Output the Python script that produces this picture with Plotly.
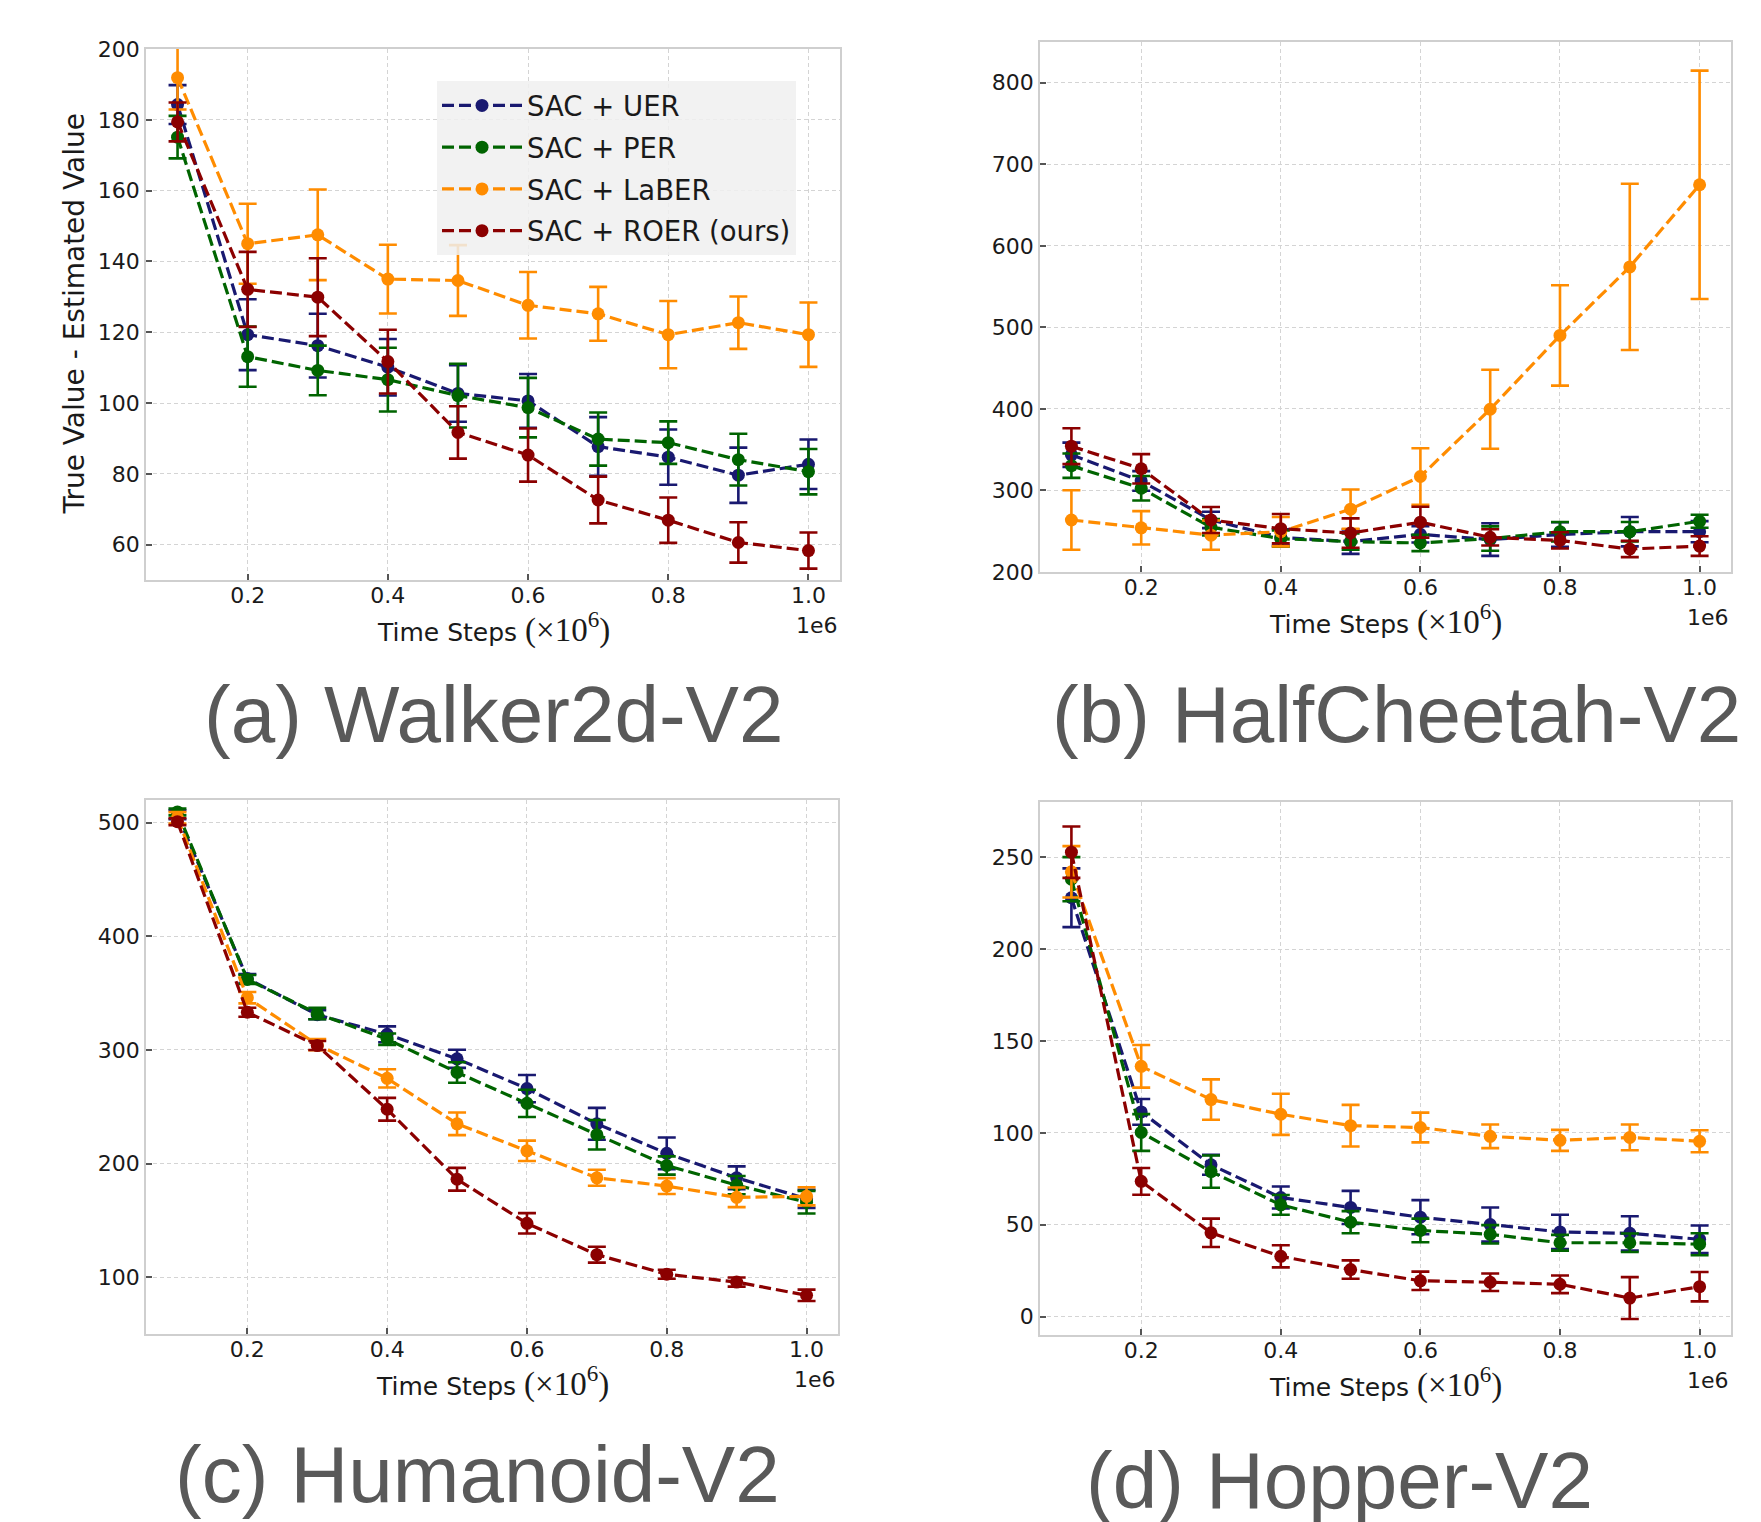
import plotly.graph_objects as go

# ---------------- data ----------------
steps = [0.1, 0.2, 0.3, 0.4, 0.5, 0.6, 0.7, 0.8, 0.9, 1.0]  # x 1e6

series_names = ["SAC + UER", "SAC + PER", "SAC + LaBER", "SAC + ROER (ours)"]
series_colors = ["#191970", "#006400", "#ff8c00", "#8b0000"]

# (a) Walker2d-V2
uer_a = [184.3, 119.3, 116.2, 110.1, 102.7, 100.6, 87.7, 84.7, 79.6, 82.7]
uer_a_err = [5.5, 10, 9, 8, 8, 7.6, 8.3, 7.8, 7.8, 7]
per_a = [175.1, 113.1, 109.2, 106.6, 102.1, 98.7, 89.8, 88.8, 84.0, 80.6]
per_a_err = [6, 8.5, 7, 9, 9, 8.4, 7.5, 6, 7.3, 6.4]
laber_a = [191.9, 145.0, 147.5, 135.0, 134.6, 127.6, 125.2, 119.3, 122.7, 119.3]
laber_a_err = [9, 11.3, 12.8, 9.7, 10, 9.4, 7.6, 9.5, 7.4, 9.1]
roer_a = [179.4, 132.1, 129.9, 111.7, 91.7, 85.3, 72.6, 66.9, 60.6, 58.3]
roer_a_err = [5.5, 10.6, 11, 9, 7.4, 7.5, 6.6, 6.4, 5.7, 5.1]

# (b) HalfCheetah-V2
uer_b = [343.7, 311.7, 263.8, 242.5, 237.2, 246.2, 239.8, 246.0, 249.4, 249.4]
uer_b_err = [15, 12, 10, 10, 15, 10, 20, 15, 18, 13]
per_b = [330.4, 302.7, 254.8, 240.9, 237.2, 235.6, 241.0, 249.4, 249.4, 262.2]
per_b_err = [15, 15, 10, 10, 10, 10, 15, 12, 12, 8]
laber_b = [263.8, 254.2, 245.2, 249.4, 277.1, 317.1, 399.6, 490.1, 574.2, 674.9]
laber_b_err = [36.5, 20.5, 18, 18, 24, 34.6, 48.5, 61.5, 102, 140]
roer_b = [354.3, 326.6, 263.8, 253.1, 247.8, 261.1, 242.5, 238.8, 228.2, 231.8]
roer_b_err = [22, 18, 16, 18, 18, 19, 10, 10, 10, 12]

# (c) Humanoid-V2
uer_c = [507.0, 362.9, 331.0, 313.8, 292.2, 266.0, 235.0, 209.0, 187.5, 169.0]
uer_c_err = [4, 4, 4, 7, 8, 12, 14, 14, 10, 8]
per_c = [509.5, 362.0, 332.0, 309.5, 280.2, 253.0, 225.4, 198.3, 181.0, 166.0]
per_c_err = [3, 4, 5, 5, 9, 12, 13, 8, 8, 10]
laber_c = [504.3, 346.0, 304.7, 275.0, 235.0, 211.2, 187.5, 180.2, 170.3, 171.2]
laber_c_err = [5, 5, 5, 8, 10, 9, 7, 7, 8.6, 8]
roer_c = [500.9, 333.2, 303.9, 247.8, 186.2, 147.4, 119.8, 102.6, 95.7, 84.1]
roer_c_err = [3, 4, 4, 10, 10, 9, 7, 4, 4, 5]

# (d) Hopper-V2
uer_d = [227.9, 111.4, 82.6, 64.8, 59.4, 54.1, 50.1, 46.1, 45.3, 42.1]
uer_d_err = [16, 7, 5.4, 6, 9, 9.3, 9.3, 9.3, 9.3, 7.5]
per_d = [238.0, 100.2, 78.9, 60.8, 51.4, 46.9, 44.8, 40.2, 40.2, 39.4]
per_d_err = [12, 10, 8.8, 5.4, 6, 6.4, 5, 4.3, 5, 6]
laber_d = [242.0, 136.2, 118.1, 110.1, 103.9, 102.9, 98.1, 95.9, 97.5, 95.4]
laber_d_err = [14, 11.6, 11, 11.2, 11.3, 8.1, 6.4, 5.7, 7, 6]
roer_d = [252.7, 73.6, 45.6, 32.8, 25.6, 19.5, 18.7, 17.6, 10.1, 16.3]
roer_d_err = [14, 7.3, 7.7, 6, 5, 5, 4.8, 4.8, 11.4, 8]

panel_titles = ["(a) Walker2d-V2", "(b) HalfCheetah-V2", "(c) Humanoid-V2", "(d) Hopper-V2"]
x_tick_vals = [0.2, 0.4, 0.6, 0.8, 1.0]
x_tick_text = ["0.2", "0.4", "0.6", "0.8", "1.0"]
y_ticks = [
    [60, 80, 100, 120, 140, 160, 180, 200],
    [200, 300, 400, 500, 600, 700, 800],
    [100, 200, 300, 400, 500],
    [0, 50, 100, 150, 200, 250],
]
y_ranges = [[50, 200], [200, 850], [50, 520], [-10, 280]]
x_range = [0.055, 1.045]

panels = [
    [(uer_a, uer_a_err), (per_a, per_a_err), (laber_a, laber_a_err), (roer_a, roer_a_err)],
    [(uer_b, uer_b_err), (per_b, per_b_err), (laber_b, laber_b_err), (roer_b, roer_b_err)],
    [(uer_c, uer_c_err), (per_c, per_c_err), (laber_c, laber_c_err), (roer_c, roer_c_err)],
    [(uer_d, uer_d_err), (per_d, per_d_err), (laber_d, laber_d_err), (roer_d, roer_d_err)],
]

# ---------------- layout geometry (page pixels) ----------------
PAGE_W, PAGE_H = 1761, 1522
OFF = 8  # default page body margin
W, H = PAGE_W - OFF, PAGE_H - OFF


def px(xp):
    return (xp - OFF) / W


def py(yp):
    return 1 - (yp - OFF) / H


# left, right, top, bottom of each plot area
boxes = [
    (146, 840, 49, 580),
    (1040, 1731, 42, 572),
    (146, 838, 800, 1334),
    (1040, 1731, 802, 1335),
]
caption_pos = [(493, 714), (1396, 714), (477, 1474), (1339, 1480)]

TICK_FONT = dict(family="DejaVu Sans", size=22, color="#1a1a1a")
LABEL_FONT = dict(family="DejaVu Sans", size=25, color="#1a1a1a")

fig = go.Figure()

for p, series in enumerate(panels):
    ax = "" if p == 0 else str(p + 1)
    for s, (vals, errs) in enumerate(series):
        fig.add_trace(go.Scatter(
            x=steps, y=vals,
            error_y=dict(type="data", array=errs, visible=True,
                         color=series_colors[s], thickness=2.6, width=9),
            mode="lines+markers",
            line=dict(color=series_colors[s], width=3.2, dash="12px,5px"),
            marker=dict(color=series_colors[s], size=13, symbol="circle"),
            name=series_names[s],
            legendgroup=series_names[s],
            showlegend=(p == 0),
            xaxis="x" + ax, yaxis="y" + ax,
        ))

layout = dict(
    width=W, height=H,
    margin=dict(l=0, r=0, t=0, b=0, autoexpand=False),
    paper_bgcolor="white",
    plot_bgcolor="white",
    showlegend=True,
    legend=dict(
        x=px(437), y=py(81), xanchor="left", yanchor="top",
        bgcolor="rgba(240,240,240,0.85)",
        borderwidth=0,
        font=dict(family="DejaVu Sans", size=27.5, color="#1a1a1a"),
        itemwidth=80,
        tracegroupgap=3,
    ),
)

annotations = []
for p in range(4):
    l, r, t, b = boxes[p]
    ax = "" if p == 0 else str(p + 1)
    common = dict(
        showgrid=True, gridcolor="#d4d4d4", gridwidth=1, griddash="4px,3px",
        showline=True, mirror=True, linecolor="#cfcfcf", linewidth=1.6,
        ticks="inside", ticklen=6, tickwidth=1.5, tickcolor="#555555",
        tickfont=TICK_FONT, zeroline=False, automargin=False,
    )
    layout["xaxis" + ax] = dict(
        domain=[px(l), px(r)], range=x_range, anchor="y" + ax,
        tickvals=x_tick_vals, ticktext=x_tick_text, ticklabelstandoff=-5, **common,
    )
    layout["yaxis" + ax] = dict(
        domain=[py(b), py(t)], range=y_ranges[p], anchor="x" + ax,
        tickvals=y_ticks[p], **common,
    )

    # x-axis title
    annotations.append(dict(
        x=px((l + r) / 2), y=py(b + 47), xref="paper", yref="paper",
        xanchor="center", yanchor="middle", showarrow=False,
        text=("Time Steps <span style=\"font-family:'Liberation Serif';font-size:33px\">"
              "(×10<sup>6</sup>)</span>"),
        font=LABEL_FONT,
    ))
    # offset text
    annotations.append(dict(
        x=px(r), y=py(b + 45), xref="paper", yref="paper",
        xanchor="right", yanchor="middle", showarrow=False,
        text="1e6", font=TICK_FONT,
    ))
    # caption
    cx, cy = caption_pos[p]
    annotations.append(dict(
        x=px(cx), y=py(cy), xref="paper", yref="paper",
        xanchor="center", yanchor="middle", showarrow=False,
        text=panel_titles[p],
        font=dict(family="Liberation Sans", size=80, color="#595959"),
    ))

# y-axis title for panel (a)
l, r, t, b = boxes[0]
annotations.append(dict(
    x=px(74), y=py((t + b) / 2), xref="paper", yref="paper",
    xanchor="center", yanchor="middle", showarrow=False, textangle=-90,
    text="True Value - Estimated Value",
    font=dict(family="DejaVu Sans", size=28, color="#1a1a1a"),
))

layout["annotations"] = annotations
fig.update_layout(**layout)
fig.write_html("out.html")
